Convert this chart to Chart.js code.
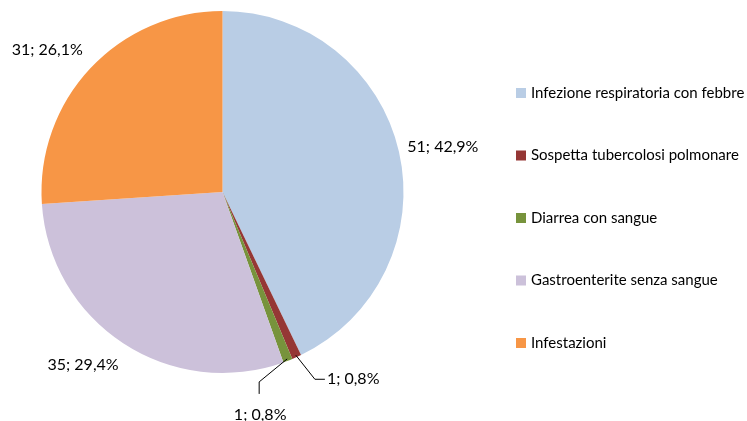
<!DOCTYPE html>
<html>
<head>
<meta charset="utf-8">
<script src="https://cdn.jsdelivr.net/npm/chart.js@4.4.0/dist/chart.umd.min.js"></script>
<style>
  body { margin: 0; background: #fff; }
  #wrap { width: 747px; height: 421px; position: relative; }
</style>
</head>
<body>
<div id="wrap"><canvas id="grafico" width="747" height="421"></canvas></div>
<script>
const categorie = [
  "Infezione respiratoria con febbre",
  "Sospetta tubercolosi polmonare",
  "Diarrea con sangue",
  "Gastroenterite senza sangue",
  "Infestazioni"
];
const casi = [51, 1, 1, 35, 31];
const percentuali = ["42,9%", "0,8%", "0,8%", "29,4%", "26,1%"];
const colori = ["#B9CDE5", "#953735", "#77933C", "#CCC1DA", "#F79646"];

const FONT_ETICHETTE = '16px Lato';
const FONT_LEGENDA = '15px Lato';

// etichette dati stile Excel, con linee guida per le fette piccole
const etichette = {
  id: "etichette",
  afterDatasetsDraw(chart, args, opts) {
    const ctx = chart.ctx;
    const arcs = chart.getDatasetMeta(0).data;
    ctx.save();
    ctx.font = FONT_ETICHETTE;
    ctx.fillStyle = "#000";
    ctx.strokeStyle = "#000";
    ctx.lineWidth = 1;
    arcs.forEach((arc, i) => {
      const testo = casi[i] + "; " + percentuali[i];
      const mid = (arc.startAngle + arc.endAngle) / 2;
      const r = arc.outerRadius;
      const guida = opts.guide[i];
      if (!guida) {
        const d = r + 44;
        const sp = opts.sposta[i] || [0, 0];
        ctx.textAlign = "center";
        ctx.textBaseline = "middle";
        ctx.fillText(testo, arc.x + d * Math.cos(mid) + sp[0], arc.y + d * Math.sin(mid) + sp[1]);
        return;
      }
      const x0 = arc.x + (r - 2) * Math.cos(mid);
      const y0 = arc.y + (r - 2) * Math.sin(mid);
      const x1 = x0 + guida.dx, y1 = y0 + guida.dy;
      const x2 = x1 + guida.tx, y2 = y1 + guida.ty;
      ctx.beginPath();
      ctx.moveTo(x0, y0);
      ctx.lineTo(x1, y1);
      ctx.lineTo(x2, y2);
      ctx.stroke();
      if (guida.ty > 0) {
        ctx.textAlign = "center";
        ctx.textBaseline = "middle";
        ctx.fillText(testo, x2 + 1, y2 + 21);
      } else {
        ctx.textAlign = "left";
        ctx.textBaseline = "middle";
        ctx.fillText(testo, x2 + 2, y2);
      }
    });
    ctx.restore();
  }
};

// legenda a destra
const legenda = {
  id: "legenda",
  afterDraw(chart, args, opts) {
    const ctx = chart.ctx;
    ctx.save();
    ctx.font = FONT_LEGENDA;
    ctx.textAlign = "left";
    ctx.textBaseline = "middle";
    categorie.forEach((c, i) => {
      const y = opts.y + i * opts.passo;
      ctx.fillStyle = colori[i];
      ctx.fillRect(opts.x, y - 5, 10, 10);
      ctx.fillStyle = "#000";
      ctx.fillText(c, opts.x + 15, y);
    });
    ctx.restore();
  }
};

new Chart(document.getElementById("grafico"), {
  type: "pie",
  data: {
    labels: categorie,
    datasets: [{
      data: casi,
      backgroundColor: colori,
      borderWidth: 0,
      hoverOffset: 0
    }]
  },
  options: {
    responsive: false,
    animation: false,
    events: [],
    layout: { padding: { left: 41, right: 343, top: 11, bottom: 48 } },
    plugins: {
      legend: { display: false },
      tooltip: { enabled: false },
      etichette: {
        guide: [null,
          { dx: 19, dy: 24, tx: 10, ty: 0 },
          { dx: -28, dy: 23, tx: 0, ty: 12 },
          null, null],
        sposta: [[1, 5], null, null, [-16, -15], [-11, 12]]
      },
      legenda: { x: 516, y: 93, passo: 62.5 }
    }
  },
  plugins: [etichette, legenda]
});
</script>
</body>
</html>
